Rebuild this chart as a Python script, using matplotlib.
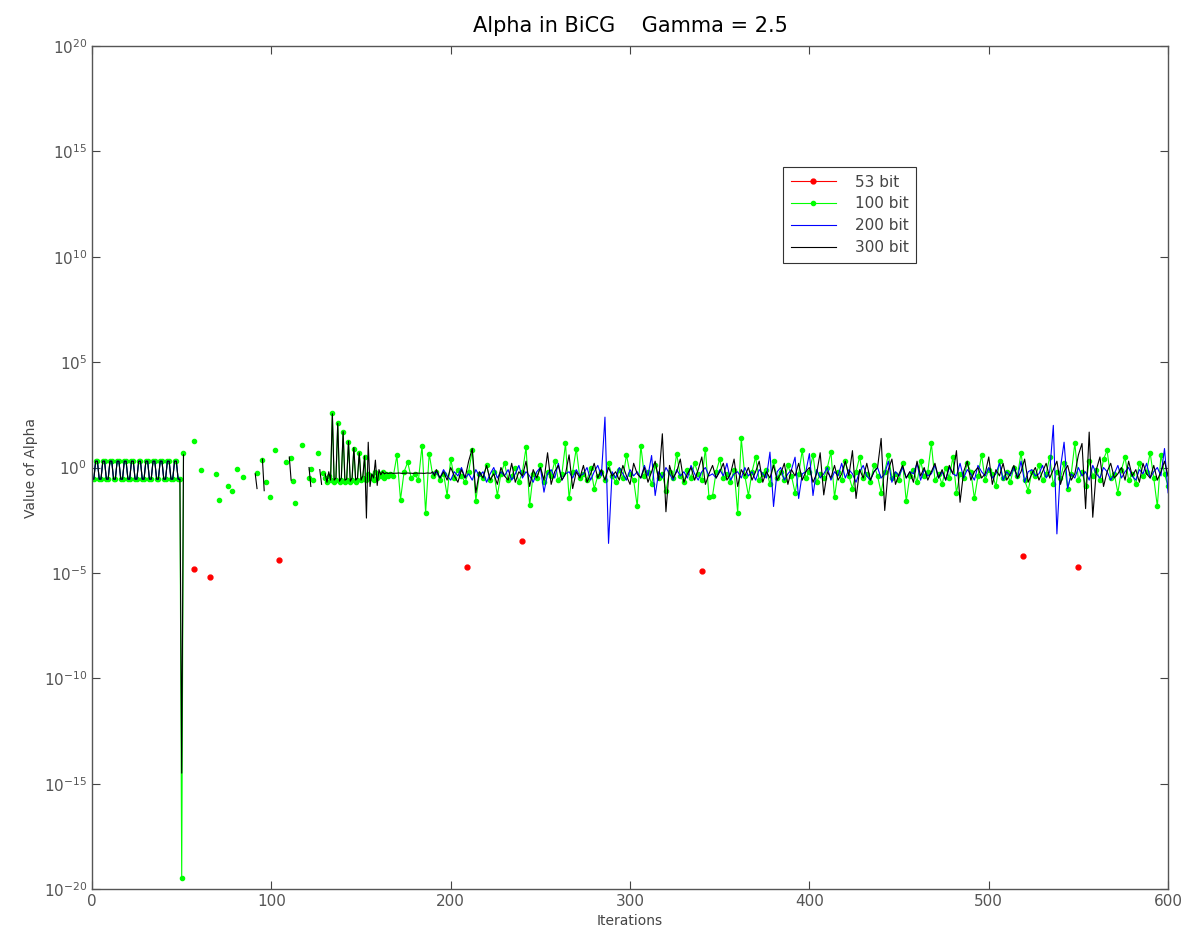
import numpy as np
import matplotlib
matplotlib.use("Agg")
import matplotlib.pyplot as plt

# exponents (log10 of alpha)

# iterations 0..49, same square wave for 100/200/300 bit
start_exp = [-0.55, -0.55, 0.3, 0.3, -0.55, -0.55, 0.3, 0.3, -0.55, -0.55,
             0.3, 0.3, -0.55, -0.55, 0.3, 0.3, -0.55, -0.55, 0.3, 0.3,
             -0.55, -0.55, 0.3, 0.3, -0.55, -0.55, 0.3, 0.3, -0.55, -0.55,
             0.3, 0.3, -0.55, -0.55, 0.3, 0.3, -0.55, -0.55, 0.3, 0.3,
             -0.55, -0.55, 0.3, 0.3, -0.55, -0.55, 0.3, 0.3, -0.55, -0.55]

# 53 bit: only a few isolated points show
red_it = [57, 66, 104, 209, 240, 340, 519, 550]
red_exp = [-4.8, -5.2, -4.4, -4.7, -3.5, -4.9, -4.2, -4.7]

# 100 bit
green_drop = [-19.5, 0.67]          # iterations 50, 51
green_sparse_it = [57, 61, 69, 71, 76, 78, 81, 84, 92, 95, 97, 99, 102, 108,
                   111, 112, 113, 117, 121, 122, 123, 126, 129]
green_sparse_exp = [1.28, -0.14, -0.33, -1.52, -0.86, -1.1, -0.05, -0.47, -0.24,
                    0.37, -0.71, -1.42, 0.81, 0.24, 0.47, -0.62, -1.7, 1.09,
                    -0.52, -0.05, -0.6, 0.68, -0.24]
green_mid = [-0.5, -0.7, -0.4, -0.6, 2.6, -0.7, -0.6, 2.1, -0.7, -0.6,
             1.7, -0.7, -0.6, 1.2, -0.7, -0.6, 0.9, -0.7, -0.6, 0.7,
             -0.6, -0.5, 0.5, -0.6, -0.3, -0.5, -0.4, -0.6, -0.2, -0.5,
             -0.3, -0.4, -0.2, -0.5, -0.3, -0.4]          # 130..165
green_tail = [-0.3, -0.4, 0.57, -1.52, -0.2, 0.25, -0.5, -0.3, -0.6, 1.04,
              -2.15, 0.66, -0.4, -0.2, -0.6, -0.3, -1.33, 0.42, -0.5, -0.1,
              -0.4, -0.7, -0.2, 0.81, -1.57, -0.3, -0.5, 0.1, -0.6, -0.2,
              -1.33, -0.3, 0.2, -0.6, -0.4, 0.0, -0.7, -0.2, 0.95, -1.8,
              -0.3, -0.5, 0.1, -0.7, -0.2, -0.4, 0.3, -0.6, -0.3, 1.14,
              -1.47, -0.2, 0.9, -0.5, -0.3, -0.6, 0.0, -1.0, -0.4, -0.2,
              -0.6, 0.2, -0.4, -0.7, -0.1, -0.5, 0.6, -0.3, -0.6, -1.85,
              1.04, -0.4, -0.2, -0.8, 0.1, -0.5, -0.3, -1.1, -0.2, -0.5,
              0.65, -0.4, -0.7, -0.1, -0.5, 0.2, -0.3, -0.6, 0.9, -1.41,
              -1.33, -0.2, 0.4, -0.5, -0.3, -0.7, -0.1, -2.15, 1.38, -0.4,
              -1.33, -0.2, 0.5, -0.6, -0.3, -0.1, -0.8, 0.3, -0.5, -0.2,
              -0.6, 0.1, -0.4, -1.2, -0.3, 0.81, -0.5, -0.2, 0.6, -0.7,
              -0.3, -0.5, 0.0, 0.73, -1.41, -0.2, -0.6, 0.3, -0.4, -1.0,
              -0.2, 0.5, -0.5, -0.3, -0.7, 0.1, -0.4, -1.2, -0.2, 0.6,
              -0.5, -0.3, -0.6, 0.2, -1.6, -0.4, -0.1, -0.7, 0.3, -0.4,
              -0.2, 1.14, -0.6, -0.3, -0.8, 0.0, -0.5, 0.5, -1.2, -0.3,
              -0.5, 0.2, -0.2, -1.47, -0.4, 0.6, -0.6, -0.1, -0.3, -0.9,
              0.3, -0.5, -0.2, -0.7, 0.0, -0.4, 0.7, -0.6, -1.1, -0.2,
              -0.4, 0.1, -0.6, -0.3, 0.5, -0.8, -0.2, -0.5, 0.2, -1.0,
              -0.3, 1.15, -0.6, -0.2, -0.9, 0.3, -0.4, -0.1, -0.6, 0.4,
              0.81, -0.5, -0.3, -1.2, -0.1, 0.5, -0.6, -0.3, -0.8, 0.2,
              -0.4, -0.2, 0.7, -0.5, -1.85, 0.6, -0.3, -0.9]   # 166..600 step 2

# 200 bit
blue_tail = [-0.3, -0.2, -0.5, -0.1, -0.4, -0.6, -0.2, -0.4, 0.0, -0.5,
             -0.3, -0.6, -0.1, -0.4, -0.2, -0.7, -0.3, 0.0, -0.5, -0.2,
             -0.4, -0.1, -0.6, -0.3, 0.1, -0.5, -0.2, -0.4, -0.7, -0.2,
             0.0, -1.17, -0.3, -0.1, -0.5, 0.2, -0.6, -0.3, -0.2, -0.5,
             -0.1, -0.4, -0.3, 0.0, -0.6, -0.2, 0.1, -0.4, 2.39, -3.6,
             -0.2, -0.5, 0.0, -0.3, -0.6, -0.1, -0.4, -0.2, -0.5, 0.1,
             -0.4, 0.57, -1.33, -0.2, -0.5, 0.0, -0.3, -0.6, -0.1, -0.4,
             -0.2, -0.5, 0.1, -0.3, -0.6, -0.2, 0.0, -0.4, -0.3, -0.5,
             -0.1, -0.4, 0.2, -0.6, -0.3, -0.2, -0.5, 0.0, -0.4, -0.2,
             -0.6, -0.1, -0.3, -0.5, 0.73, -1.85, -0.2, 0.0, -0.6, -0.3,
             -0.1, 0.49, -1.47, -0.3, -0.2, 0.66, -1.33, -0.1, -0.5, -0.3,
             0.0, -0.6, -0.2, -0.4, 0.2, -0.5, -0.1, -0.3, -0.7, -0.2,
             0.1, -0.4, -0.6, -0.2, 0.0, -0.5, -0.3, 0.3, -0.7, -0.2,
             -0.4, 0.0, -0.5, -0.2, -0.3, 0.2, -0.6, -0.1, -0.4, -0.3,
             0.1, -0.5, -0.2, -0.6, 0.0, -0.3, -0.4, 0.2, -0.5, -0.1,
             -0.3, -0.6, 0.1, -0.2, -0.4, 0.0, -0.5, -0.3, 0.2, -0.6,
             -0.2, -0.4, 0.0, -0.5, 0.3, -0.7, -0.2, -0.1, -0.4, -0.3,
             0.1, -0.5, -0.2, 2.0, -3.15, 0.0, 1.2, -1.0, -0.3, -0.5,
             0.0, -0.4, -0.2, -0.6, 0.1, -0.3, -0.5, 0.0, -0.2, -0.6,
             -0.3, 0.1, -0.5, -0.2, 0.0, -0.4, -0.6, -0.1, -0.3, 0.2,
             -0.5, -0.2, 0.0, -0.4, 0.9, -1.2]                # 190..600 step 2

# 300 bit
black_drop = [-14.5, 0.6]           # iterations 50, 51
black_sparse_it = [91, 92, np.nan, 95, 96, np.nan, 110, 111, np.nan,
                   121, 122, np.nan, 127, 128, np.nan]
black_sparse_exp = [-0.3, -1.0, np.nan, 0.4, -1.1, np.nan, 0.5, -0.6, np.nan,
                    0.0, -0.9, np.nan, -0.1, -0.8, np.nan]
black_mid = [-0.3, -0.7, -0.2, -0.6, 2.55, -0.6, -0.5, 2.1, -0.65, -0.5,
             1.7, -0.6, -0.55, 1.25, -0.65, -0.5, 0.95, -0.6, -0.5, 0.7,
             -0.6, -0.4, 0.55, -2.4, 1.2, -0.9, -0.3, -0.5, 0.35, -0.85,
             -0.1, -0.35, -0.2, -0.3, -0.25, -0.28,
             -0.27, -0.26, -0.28, -0.27, -0.27, -0.26, -0.27, -0.28, -0.27, -0.27,
             -0.26, -0.27, -0.27, -0.28, -0.27, -0.26, -0.27, -0.27, -0.27, -0.28,
             -0.27, -0.26, -0.27, -0.27, -0.2, -0.4]           # 130..191
black_tail = [-0.1, -0.5, -0.2, -0.6, 0.0, -0.4, -0.7, -0.1, -0.5, 0.3,
              0.9, -1.2, -0.2, -0.5, 0.1, -0.6, -0.3, -0.8, 0.0, -0.4,
              -0.6, 0.2, -0.7, -0.2, -0.4, 0.3, -0.9, -0.1, -0.5, 0.0,
              -0.6, 0.7, -0.8, -0.2, 0.1, -0.6, -0.3, 0.6, -1.0, -0.2,
              -0.5, 0.1, -0.7, -0.3, 0.2, -0.5, -0.1, -0.6, 0.0, -0.4,
              -0.2, -0.6, 0.1, -0.4, -0.8, 0.2, -0.3, -0.5, 0.0, -0.7,
              -0.2, 0.3, -0.6, 1.6, -2.1, 0.1, -0.5, -0.2, 0.4, -0.7,
              -0.3, 0.0, -0.6, -0.1, 0.5, -0.8, -0.3, 0.1, -0.5, -0.2,
              0.2, -0.6, -0.3, 0.4, -0.9, -0.1, -0.4, 0.0, -0.6, -0.2,
              0.3, -0.7, -0.2, -0.5, 0.1, -0.6, -0.3, 0.2, -0.8, -0.1,
              -0.4, 0.2, -0.6, -0.2, 0.0, -0.7, -0.3, 0.7, -1.3, -0.2,
              -0.5, 0.1, -0.6, -0.3, 0.3, -0.4, 0.8, -1.47, -0.1, -0.5,
              0.2, -0.6, -0.2, 0.0, 1.38, -2.04, -0.1, 0.4, -0.8, -0.3,
              0.1, -0.5, -0.2, -0.7, 0.3, -0.4, 0.0, -0.6, -0.2, 0.2,
              -0.5, -0.1, -0.6, 0.1, -0.3, 0.8, -1.65, -0.2, 0.3, -0.6,
              -0.2, 0.0, -0.5, -0.3, 0.5, -0.8, -0.1, -0.4, 0.2, -0.6,
              -0.3, 0.1, -0.5, -0.2, 0.4, -0.7, -0.3, 0.0, -0.6, -0.2,
              0.2, -0.5, -0.1, 0.3, -0.8, -0.2, 0.1, -0.6, -0.3, 0.6,
              1.14, -1.95, 1.68, -2.36, -0.1, 0.5, -0.9, -0.2, 0.2, -0.5,
              -0.3, 0.0, -0.6, 0.3, -0.4, -0.1, -0.7, 0.2, -0.3, -0.5,
              0.1, -0.6, -0.2, 0.3, -0.4]                     # 192..600 step 2

# build iteration axes; NaN breaks the line between isolated values
it_start = np.arange(0, 50)
red_x, red_y = [], []
for i, e in zip(red_it, red_exp):
    red_x += [i, np.nan]
    red_y += [e, np.nan]

green_x = (list(it_start) + [50, 51] + [np.nan] + list(np.arange(130, 166))
           + list(np.arange(166, 601, 2)))
green_y = start_exp + green_drop + [np.nan] + green_mid + green_tail

blue_x = list(it_start) + [np.nan] + list(np.arange(190, 601, 2))
blue_y = start_exp + [np.nan] + blue_tail

black_x = (list(it_start) + [50, 51] + [np.nan] + black_sparse_it
           + list(np.arange(130, 192)) + list(np.arange(192, 601, 2)))
black_y = start_exp + black_drop + [np.nan] + black_sparse_exp + black_mid + black_tail

def pw(e):
    return np.power(10.0, np.array(e, dtype=float))

fig = plt.figure(figsize=(11.86, 9.48), dpi=100)
ax = fig.add_axes([0.0776, 0.0622, 0.9073, 0.8893])

ax.plot(red_x, pw(red_y), color='red', lw=0.8, marker='.', ms=7, label='53 bit')
ax.plot(green_x, pw(green_y), color='#00ff00', lw=0.8, marker='.', ms=6, label='100 bit')
ax.plot(green_sparse_it, pw(green_sparse_exp), color='#00ff00', ls='none', marker='.', ms=6)
ax.plot(blue_x, pw(blue_y), color='blue', lw=0.8, label='200 bit')
ax.plot(black_x, pw(black_y), color='black', lw=0.8, label='300 bit')

ax.set_yscale('log')
ax.set_xlim(0, 600)
ax.set_ylim(1e-20, 1e20)
ax.set_xticks([0, 100, 200, 300, 400, 500, 600])
yt = [-20, -15, -10, -5, 0, 5, 10, 15, 20]
ax.set_yticks([10.0 ** k for k in yt])
ax.set_yticklabels(['$10^{%d}$' % k for k in yt])
ax.minorticks_off()
ax.tick_params(direction='in', top=True, right=True, length=6, width=0.8,
               colors='#444444', labelsize=11, labelcolor='#555555')
for s in ax.spines.values():
    s.set_color('#555555')
    s.set_linewidth(1.0)

ax.set_title('Alpha in BiCG    Gamma = 2.5', fontsize=15, pad=10)
ax.set_xlabel('Iterations', fontsize=10, color='#444444', labelpad=4)
ax.set_ylabel('Value of Alpha', fontsize=10, color='#444444', labelpad=4)

leg = ax.legend(loc='upper left', bbox_to_anchor=(0.642, 0.8565), borderaxespad=0,
                fontsize=11, fancybox=False, framealpha=1, edgecolor='#333333',
                handlelength=3.0, handletextpad=1.2, borderpad=0.5, labelspacing=0.45)
leg.get_frame().set_linewidth(0.8)
for t in leg.get_texts():
    t.set_color('#444444')

fig.savefig('out.png', dpi=100)
